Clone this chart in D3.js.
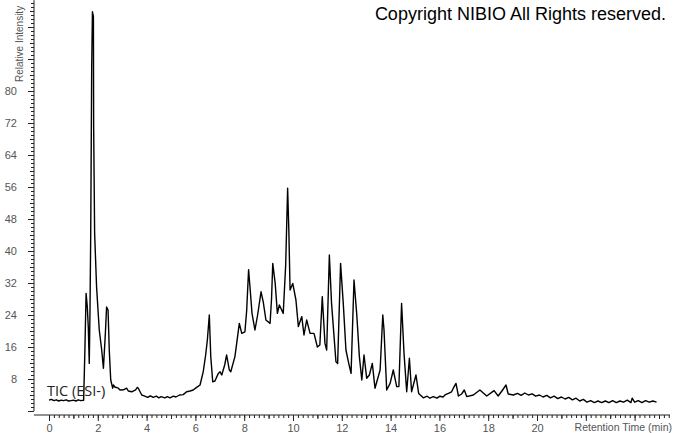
<!DOCTYPE html>
<html>
<head>
<meta charset="utf-8">
<script src="https://cdn.jsdelivr.net/npm/d3@7"></script>
<style>
  body { margin: 0; background: #fff; }
  svg { display: block; }
  .tick text { font-family: Arial, "Liberation Sans", sans-serif; font-size: 11px; fill: #555; }
  .domain { stroke: #222; }
  .tick line { stroke: #222; }
</style>
</head>
<body>
<svg id="chart" width="673" height="433"></svg>
<script>
// retention time (min) and relative intensity
const times = [
  0, 0.1, 0.2, 0.3, 0.4, 0.5, 0.6, 0.7, 0.8, 0.9, 1.0, 1.1, 1.2, 1.3, 1.42,
  1.47, 1.52, 1.57, 1.61, 1.65, 1.68, 1.71, 1.75, 1.78, 1.82, 1.83, 1.87, 1.95,
  2.06, 2.16, 2.23, 2.31, 2.36, 2.42, 2.47, 2.53, 2.61, 2.64, 2.70, 2.84, 2.91, 3.05, 3.18, 3.25, 3.39, 3.55, 3.62, 3.66,
  3.80, 3.9, 4.05, 4.15, 4.27, 4.4, 4.5, 4.6, 4.75, 4.85, 4.96, 5.1, 5.2, 5.35, 5.5, 5.6, 5.64,
  5.78, 5.91, 6.05, 6.19, 6.32, 6.42, 6.49, 6.57, 6.63, 6.71, 6.80, 6.94,
  7.01, 7.08, 7.20, 7.28, 7.39, 7.45, 7.62, 7.80, 7.90, 8.03, 8.10, 8.18, 8.25, 8.32, 8.44, 8.55, 8.69, 8.78, 8.89,
  9.06, 9.12, 9.17, 9.27, 9.36, 9.44, 9.60, 9.70, 9.78, 9.83, 9.88, 9.99, 10.12, 10.22, 10.36, 10.45, 10.56, 10.70,
  10.86, 11.00, 11.10, 11.20, 11.31, 11.38, 11.49, 11.58, 11.76, 11.83, 11.95, 12.06, 12.17, 12.27, 12.38, 12.50,
  12.61, 12.72, 12.82, 12.91, 13.02, 13.13, 13.25, 13.36, 13.57, 13.68, 13.73, 13.84, 13.98, 14.11, 14.25, 14.34,
  14.45, 14.55, 14.66, 14.77, 14.86, 15.04, 15.15, 15.34, 15.5, 15.61, 15.75, 15.9, 16.02, 16.15, 16.25,
  16.37, 16.50, 16.57, 16.68, 16.78, 16.91,
  17.02, 17.12, 17.39, 17.66, 17.94, 18.24, 18.41, 18.59, 18.73, 18.82, 19.03,
  19.2, 19.35, 19.5, 19.65, 19.8, 19.95, 20.1, 20.25, 20.4, 20.55, 20.7, 20.85, 21.0, 21.15, 21.3, 21.45, 21.6, 21.75,
  21.9, 22.05, 22.2, 22.35, 22.5, 22.65, 22.8, 22.95, 23.1, 23.25, 23.4, 23.55, 23.7, 23.85, 23.9, 24.0, 24.15, 24.3,
  24.45, 24.6, 24.75, 24.9];
const intensity = [
  2.7, 2.9, 2.6, 2.8, 2.5, 2.7, 2.6, 2.8, 2.5, 2.6, 2.7, 2.5, 2.8, 2.6, 2.7,
  15, 29.4, 26, 21, 11.9, 25, 44.5, 86, 99.8, 98.6, 71, 44.4, 31,
  20.25, 15.25, 10.7, 19.4, 26, 25.25, 15.25, 7.75, 5.7, 6.5, 6.0, 5.7, 5.25, 5.3, 5.7, 5.0, 4.8, 5.3, 5.9, 5.7,
  4.0, 3.8, 3.4, 3.8, 3.4, 3.7, 3.3, 3.6, 3.3, 3.6, 3.3, 3.7, 3.5, 4.0, 4.1, 4.6, 4.8,
  5.0, 5.25, 5.9, 6.5, 9.8, 14, 17.75, 24, 13.6, 7.3, 7.5, 9.4,
  9.8, 9.0, 11.5, 14, 10.25, 9.8, 13.6, 21.9, 19.4, 19.8, 25, 35.3, 30, 24.4, 20.25, 24, 29.8, 27.3, 22.75,
  21.9, 28, 36.9, 31.9, 24.4, 26.5, 24.4, 36.5, 55.7, 45, 30.25, 31.9, 27.75, 21.1, 23.6, 19, 22.75, 19.4,
  19.4, 16, 16.5, 28.6, 16.9, 15.25, 39, 26.9, 12.3, 11.9, 36.9, 26.9, 15.25, 12.3, 9.4, 32.75,
  24.4, 13.6, 7.75, 14, 8.2, 9, 11.9, 5.7, 10.25, 24, 20.25, 5.25, 6.9, 10.25, 6.1, 6.1,
  26.9, 14.4, 4.8, 13.2, 4.8, 9, 4.4, 3.3, 3.7, 3.2, 3.6, 3.2, 3.7, 3.5, 4.1,
  4.4, 4.8, 5.7, 6.9, 3.75, 4.25,
  5.25, 3.6, 4.0, 5.25, 3.75, 5.1, 3.75, 5.25, 6.5, 4.25, 4.0,
  4.4, 3.9, 4.5, 4.0, 4.3, 3.7, 4.0, 3.5, 3.9, 3.3, 3.7, 3.1, 3.5, 3.0, 3.4, 2.8, 3.2, 2.5,
  2.9, 2.2, 2.6, 2.1, 2.5, 2.1, 2.5, 2.1, 2.6, 2.1, 2.5, 2.2, 2.7, 2.1, 3.2, 2.2, 2.6, 2.1,
  2.6, 2.2, 2.5, 2.2];

const xLabelTicks = [0, 2, 4, 6, 8, 10, 12, 14, 16, 18, 20];
const yLabelTicks = [8, 16, 24, 32, 40, 48, 56, 64, 72, 80];

const svg = d3.select("#chart");

const x = d3.scaleLinear().domain([0, 20]).range([49, 537]);
const y = d3.scaleLinear().domain([0, 100]).range([411, 11]);

const xMin = -0.62, xMax = 25.45;
const yMax = 102.7;

// x axis: minor every 0.2, medium at odd minutes, labelled at even minutes
const xMinor = d3.range(0, 128).map(i => +(i * 0.2).toFixed(1)).filter(v => v <= xMax);
const xMajor = d3.range(0, 26, 2);
const xOdd = d3.range(1, 26, 2);

const xG = svg.append("g").attr("transform", "translate(0,415)");
xG.append("line").attr("x1", x(xMin)).attr("x2", x(xMax)).attr("stroke", "#222");
xG.append("g").call(d3.axisBottom(x).tickValues(xMinor).tickSize(3).tickFormat(""))
  .call(g => g.select(".domain").remove());
xG.append("g").call(d3.axisBottom(x).tickValues(xOdd).tickSize(4).tickFormat(""))
  .call(g => g.select(".domain").remove());
xG.append("g").call(d3.axisBottom(x).tickValues(xMajor).tickSize(6)
    .tickFormat(d => xLabelTicks.includes(d) ? d : "").tickPadding(3))
  .call(g => g.select(".domain").remove());

// y axis: minor every 1, medium at 4s, labelled at 8s
const yMinor = d3.range(0, 103);
const yMid = d3.range(4, 103, 8);
const yMajor = d3.range(0, 103, 8);

const yG = svg.append("g").attr("transform", "translate(34,0)");
yG.append("line").attr("y1", y(0)).attr("y2", y(yMax)).attr("stroke", "#222");
yG.append("g").call(d3.axisLeft(y).tickValues(yMinor).tickSize(3).tickFormat(""))
  .call(g => g.select(".domain").remove());
yG.append("g").call(d3.axisLeft(y).tickValues(yMid).tickSize(4).tickFormat(""))
  .call(g => g.select(".domain").remove());
yG.append("g").call(d3.axisLeft(y).tickValues(yMajor).tickSize(6)
    .tickFormat(d => yLabelTicks.includes(d) ? d : "").tickPadding(11))
  .call(g => g.select(".domain").remove());

// trace
const line = d3.line()
  .x((d, i) => x(times[i]))
  .y(d => y(d));

svg.append("path")
  .datum(intensity)
  .attr("d", line)
  .attr("fill", "none")
  .attr("stroke", "#000")
  .attr("stroke-width", 1.4)
  .attr("stroke-linejoin", "round");

// labels
svg.append("text")
  .attr("transform", "translate(23,82) rotate(-90)")
  .attr("font-family", "Arial, 'Liberation Sans', sans-serif")
  .attr("font-size", 10)
  .attr("fill", "#555")
  .text("Relative Intensity");

svg.append("text")
  .attr("x", 672).attr("y", 431)
  .attr("text-anchor", "end")
  .attr("font-family", "Arial, 'Liberation Sans', sans-serif")
  .attr("font-size", 10.5)
  .attr("fill", "#555")
  .text("Retention Time (min)");

svg.append("text")
  .attr("x", 47).attr("y", 396)
  .attr("font-family", "'Open Sans', 'Noto Sans', sans-serif")
  .attr("font-size", 14.5)
  .attr("fill", "#222")
  .text("TIC (ESI-)");

svg.append("text")
  .attr("x", 666).attr("y", 20)
  .attr("text-anchor", "end")
  .attr("font-family", "Arial, 'Liberation Sans', sans-serif")
  .attr("font-size", 18)
  .attr("fill", "#000")
  .text("Copyright NIBIO All Rights reserved.");
</script>
</body>
</html>
